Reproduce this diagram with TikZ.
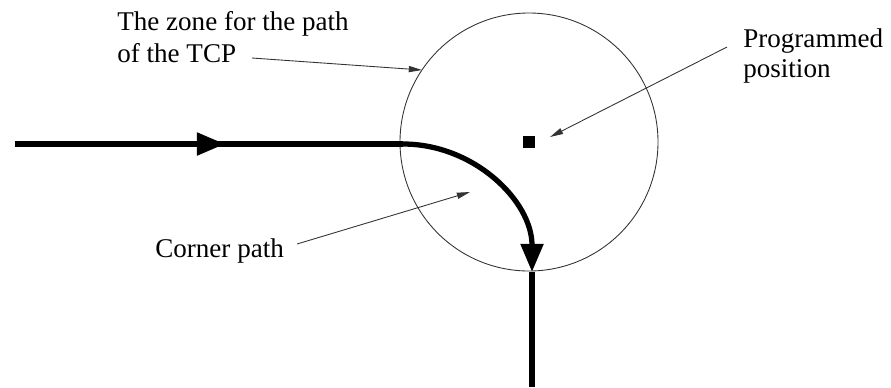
\documentclass[tikz,border=0pt]{standalone}
\usepackage{fontspec}
\setmainfont{Liberation Serif}
\usetikzlibrary{arrows.meta}

\begin{document}
\begin{tikzpicture}[x=0.02cm,y=-0.02cm,>=Latex,
  caption/.style={inner sep=0pt,anchor=base west,align=left,
    font=\fontsize{15.4}{18.2}\selectfont},
  zoneline/.style={line width=0.5pt,draw=black!80},
  pointer/.style={line width=0.5pt,draw=black!80,-{Triangle[length=7.5pt,width=3.5pt]}},
  tcp/.style={line width=3pt,line cap=butt},
  tcparrow/.style={tcp,-{Triangle[length=16pt,width=12.5pt]}},
  target/.style={fill=black,inner sep=0pt,minimum size=6.3pt}]

\useasboundingbox (0,0) rectangle (891,387);

\coordinate (start) at (15,144);
\coordinate (mid) at (225,144);
\coordinate (enter) at (403,144);
\coordinate (exit) at (532,272);
\coordinate (bottom) at (532,387);

\node[target] (pos) at (529,142) {};
\draw[zoneline] (pos) circle[radius=129];

% path of the TCP
\draw[tcp] (start) -- (enter);
\draw[tcparrow] (start) -- (mid);
\draw[tcparrow] (enter) .. controls (474,144) and (532,201) .. (exit);
\draw[tcp] (exit) -- (bottom);

% base anchor sits on the last line
\node[caption] (zone) at (117,62) {The zone for the path\\of the TCP};
\node[caption] (prog) at (743,77) {Programmed\\[-1.5pt]position};
\node[caption] (corner) at (155,257) {Corner path};

\coordinate (zoneFrom) at (252,58);
\coordinate (zoneTo) at (422,70);
\coordinate (progFrom) at (727,47);
\coordinate (progTo) at (550,137);
\coordinate (cornerFrom) at (297,244);
\coordinate (cornerTo) at (470,192);

\draw[pointer] (zoneFrom) -- (zoneTo);
\draw[pointer] (progFrom) -- (progTo);
\draw[pointer] (cornerFrom) -- (cornerTo);
\end{tikzpicture}
\end{document}
